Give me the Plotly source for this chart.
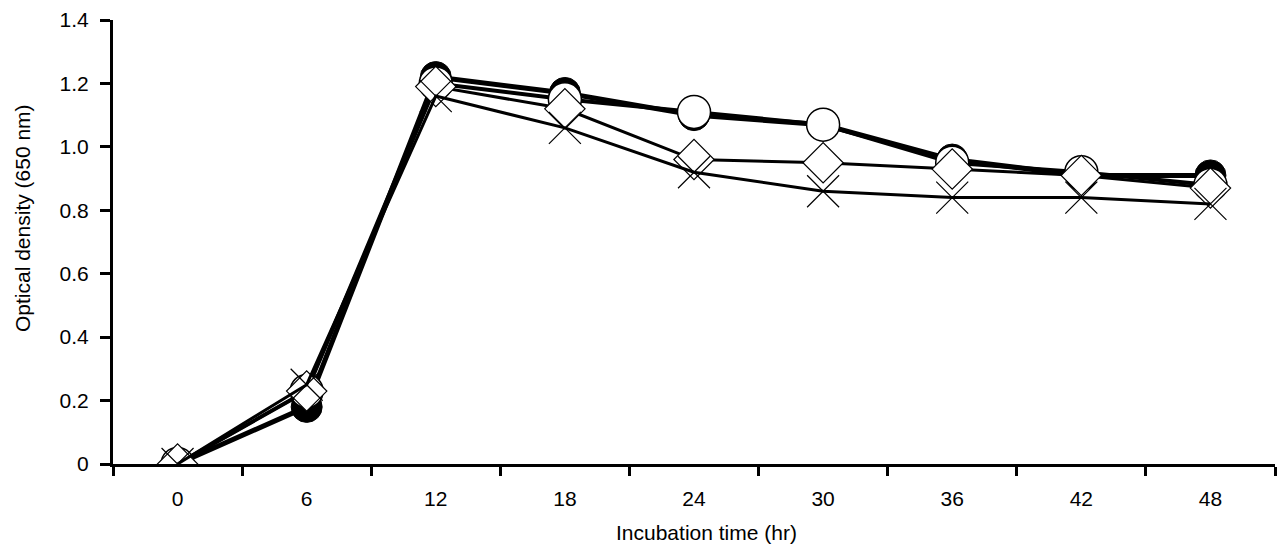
import plotly.graph_objects as go

hours = ["0", "6", "12", "18", "24", "30", "36", "42", "48"]
filled_circle = [0.0, 0.18, 1.22, 1.17, 1.10, 1.07, 0.96, 0.91, 0.91]
open_circle = [0.0, 0.23, 1.20, 1.15, 1.11, 1.07, 0.95, 0.92, 0.88]
diamond = [0.0, 0.23, 1.19, 1.12, 0.96, 0.95, 0.93, 0.91, 0.87]
cross = [0.0, 0.25, 1.16, 1.06, 0.92, 0.86, 0.84, 0.84, 0.82]
y_ticks = [0, 0.2, 0.4, 0.6, 0.8, 1.0, 1.2, 1.4]
y_tick_text = ["0", "0.2", "0.4", "0.6", "0.8", "1.0", "1.2", "1.4"]

FONT = "Liberation Sans, Arial, sans-serif"

PLOT_W = 1280 - 113 - 5
PLOT_H = 548 - 20 - 84

fig = go.Figure()
fig.add_trace(go.Scatter(x=hours, y=filled_circle, mode="lines+markers",
                         line=dict(color="black", width=5),
                         marker=dict(symbol="circle", size=31, color="black",
                                     line=dict(color="black", width=1))))
fig.add_trace(go.Scatter(x=hours, y=open_circle, mode="lines+markers",
                         line=dict(color="black", width=4),
                         marker=dict(symbol="circle", size=33, color="white",
                                     line=dict(color="black", width=1.5))))
fig.add_trace(go.Scatter(x=hours, y=diamond, mode="lines+markers",
                         line=dict(color="black", width=3),
                         marker=dict(symbol="diamond", size=31, color="white",
                                     line=dict(color="black", width=1.2))))
fig.add_trace(go.Scatter(x=hours, y=cross, mode="lines+markers",
                         line=dict(color="black", width=3),
                         marker=dict(symbol="x-thin", size=32, color="black",
                                     line=dict(color="black", width=1.2))))

fig.update_layout(
    width=1280, height=548,
    margin=dict(l=113, r=5, t=20, b=84),
    paper_bgcolor="white", plot_bgcolor="white",
    showlegend=False,
    font=dict(family=FONT, color="black", size=21),
    xaxis=dict(type="category", range=[-0.5, 8.5], tickson="boundaries",
               ticks="outside", ticklen=9, tickwidth=3, tickcolor="black",
               showline=True, linecolor="black", linewidth=3,
               showgrid=False, zeroline=False,
               tickfont=dict(size=21, family=FONT), ticklabelstandoff=14),
    yaxis=dict(range=[0, 1.4], tickvals=y_ticks, ticktext=y_tick_text,
               ticks="outside", ticklen=10, tickwidth=3, tickcolor="black",
               showline=True, linecolor="black", linewidth=3,
               showgrid=False, zeroline=False,
               tickfont=dict(size=21, family=FONT), ticklabelstandoff=7),
    annotations=[
        dict(text="Incubation time (hr)", xref="paper", yref="paper",
             x=(706 - 113) / PLOT_W, y=(464 - 532) / PLOT_H,
             xanchor="center", yanchor="middle", showarrow=False,
             font=dict(size=21, family=FONT)),
        dict(text="Optical density (650 nm)", xref="paper", yref="paper",
             x=(22 - 113) / PLOT_W, y=(464 - 218) / PLOT_H,
             xanchor="center", yanchor="middle", showarrow=False, textangle=-90,
             font=dict(size=21, family=FONT)),
    ],
)

fig.write_html("out.html")
